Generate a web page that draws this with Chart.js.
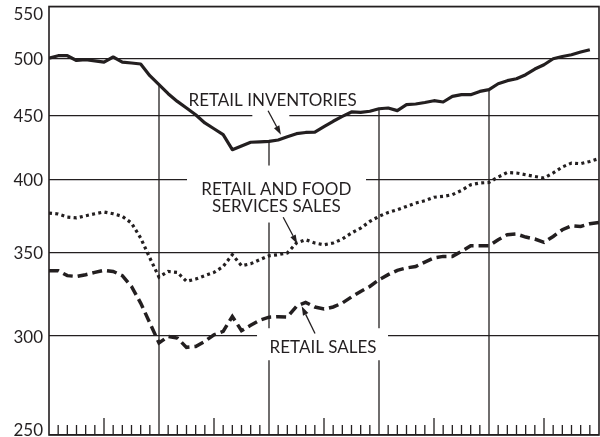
<!DOCTYPE html>
<html>
<head>
<meta charset="utf-8">
<script src="https://cdn.jsdelivr.net/npm/chart.js@4.4.0/dist/chart.umd.min.js"></script>
<style>
  html, body { margin: 0; padding: 0; background: #fff; }
  canvas { display: block; }
</style>
</head>
<body>
<canvas id="chart" width="600" height="437"></canvas>
<script>
// Monthly values, billions of dollars (log scale)
const inventories = [
    500.6, 502.8, 502.8, 498.4, 499.1, 498.1, 496.9, 501.6, 496.9, 496.1,
    495.2, 484.6, 476.7, 468.8, 462.2, 456.6, 451.0, 444.2, 439.5, 434.7,
    422.9, 425.8, 428.7, 429.0, 429.4, 430.5, 433.1, 435.5, 436.5, 436.8,
    441.2, 445.6, 449.6, 453.3, 452.9, 453.9, 456.0, 456.6, 454.4, 459.4,
    460.0, 461.3, 462.8, 461.7, 466.5, 468.0, 468.0, 470.8, 472.3, 477.5,
    480.2, 481.9, 485.5, 490.6, 494.5, 500.0, 502.1, 503.7, 506.2, 508.3
];
const foodServicesSales = [
    376.3, 375.6, 373.5, 372.9, 374.4, 375.8, 377.0, 375.8, 374.0, 369.4,
    359.4, 346.4, 334.4, 337.9, 337.3, 331.8, 333.2, 335.3, 337.3, 341.0,
    348.5, 341.5, 342.7, 345.3, 347.8, 348.5, 349.6, 356.1, 358.2, 356.1,
    354.9, 356.1, 358.7, 362.7, 366.0, 370.5, 374.0, 376.7, 378.6, 380.9,
    383.3, 384.9, 387.4, 388.0, 389.2, 392.3, 396.4, 397.7, 398.1, 402.1,
    405.5, 405.1, 403.8, 402.5, 401.4, 405.1, 409.6, 412.6, 412.1, 413.8,
    416.0
];
const retailSales = [
    338.4, 338.4, 335.3, 334.8, 335.9, 337.3, 338.6, 337.9, 335.3, 328.7,
    318.8, 307.3, 296.2, 299.8, 298.9, 293.8, 294.3, 297.1, 300.7, 302.6,
    311.0, 303.0, 306.0, 308.9, 310.6, 310.9, 310.7, 316.9, 319.2, 316.5,
    315.3, 316.5, 318.8, 322.4, 325.7, 328.7, 332.8, 335.9, 338.6, 340.1,
    341.0, 343.8, 346.4, 347.4, 347.4, 350.6, 354.3, 354.3, 354.3, 358.2,
    361.6, 362.0, 360.0, 358.7, 356.5, 360.4, 364.9, 367.6, 367.1, 368.9,
    369.8
];
const yTicks = [250, 300, 350, 400, 450, 500, 550];
const yearStarts = [12, 24, 36, 48];
const totalMonths = 60;

const ink = '#231f20';
const font = '17px Lato';

// callouts, anchored in data units (month, value)
const notes = [
    { lines: ['RETAIL INVENTORIES'], x: 24.4, y: 464.5 },
    { lines: ['RETAIL AND FOOD', 'SERVICES SALES'], x: 24.8, y: 388.3 },
    { lines: ['RETAIL SALES'], x: 29.9, y: 295 }
];
// white knock-outs behind the callouts (centre in data units, size in px)
const masks = [
    { x: 24.2, y: 450, w: 37, h: 8 },
    { x: 24.82, y: 389.7, w: 179, h: 57 },
    { x: 29.84, y: 295.5, w: 131, h: 32 }
];
const arrows = [
    { from: [23.9, 454.3], to: [25.3, 434.7] },
    { from: [25.55, 373.4], to: [27.08, 355.6] },
    { from: [29.02, 301.4], to: [27.57, 316.9] }
];

function seg(ctx, x1, y1, x2, y2) {
    ctx.beginPath();
    ctx.moveTo(x1, y1);
    ctx.lineTo(x2, y2);
    ctx.stroke();
}

const overlay = {
    id: 'overlay',
    beforeDatasetsDraw(chart) {
        const { ctx, chartArea: a, scales: { x, y } } = chart;
        ctx.save();
        ctx.strokeStyle = ink;
        ctx.lineWidth = 1.3;

        // year lines only run below the inventories line
        yearStarts.forEach(m => {
            const px = x.getPixelForValue(m);
            seg(ctx, px, y.getPixelForValue(inventories[m]), px, a.bottom);
        });

        // monthly ticks up from the bottom axis, longer at mid-year
        for (let m = 1; m < totalMonths; m++) {
            if (m % 12 === 0) continue;
            const px = x.getPixelForValue(m);
            const len = m % 6 === 0 ? 17 : 10;
            seg(ctx, px, a.bottom, px, a.bottom - len);
        }

        ctx.fillStyle = '#fff';
        masks.forEach(k => {
            const cx = x.getPixelForValue(k.x);
            const cy = y.getPixelForValue(k.y);
            ctx.fillRect(cx - k.w / 2, cy - k.h / 2, k.w, k.h);
        });

        ctx.fillStyle = ink;
        ctx.font = font;
        ctx.textAlign = 'center';
        ctx.textBaseline = 'middle';
        notes.forEach(n => {
            const cx = x.getPixelForValue(n.x);
            const cy = y.getPixelForValue(n.y) + 2;
            const top = cy - (n.lines.length - 1) * 17 / 2;
            n.lines.forEach((t, i) => ctx.fillText(t, cx, top + i * 17));
        });
        ctx.restore();
    },
    afterDatasetsDraw(chart) {
        const { ctx, chartArea: a, scales: { x, y } } = chart;
        ctx.save();
        ctx.strokeStyle = ink;
        ctx.fillStyle = ink;

        // arrows
        ctx.lineWidth = 1.3;
        arrows.forEach(r => {
            const x1 = x.getPixelForValue(r.from[0]), y1 = y.getPixelForValue(r.from[1]);
            const x2 = x.getPixelForValue(r.to[0]), y2 = y.getPixelForValue(r.to[1]);
            const ang = Math.atan2(y2 - y1, x2 - x1);
            const hl = 9, hw = 3;
            const bx = x2 - hl * Math.cos(ang), by = y2 - hl * Math.sin(ang);
            seg(ctx, x1, y1, bx, by);
            ctx.beginPath();
            ctx.moveTo(x2, y2);
            ctx.lineTo(bx + hw * Math.sin(ang), by - hw * Math.cos(ang));
            ctx.lineTo(bx - hw * Math.sin(ang), by + hw * Math.cos(ang));
            ctx.closePath();
            ctx.fill();
        });

        // frame
        ctx.lineWidth = 1.6;
        ctx.strokeRect(a.left, a.top - 0.5, a.right - a.left, a.bottom - a.top + 0.5);

        // value labels, kept inside the canvas at the ends
        ctx.font = font;
        ctx.textAlign = 'right';
        ctx.textBaseline = 'middle';
        yTicks.forEach(v => {
            const py = Math.min(Math.max(y.getPixelForValue(v) + 1, 15), 431);
            ctx.fillText(String(v), 43, py);
        });
        ctx.restore();
    }
};

const toPoints = (arr) => arr.map((v, i) => ({ x: i, y: v }));

new Chart(document.getElementById('chart'), {
    type: 'line',
    data: {
        datasets: [
            {
                label: 'Retail inventories',
                data: toPoints(inventories),
                borderColor: ink,
                borderWidth: 3.2,
                borderJoinStyle: 'round',
                pointRadius: 0
            },
            {
                label: 'Retail and food services sales',
                data: toPoints(foodServicesSales),
                borderColor: ink,
                borderWidth: 3.2,
                borderDash: [3, 3.3],
                pointRadius: 0
            },
            {
                label: 'Retail sales',
                data: toPoints(retailSales),
                borderColor: ink,
                borderWidth: 3.5,
                borderDash: [10, 5],
                pointRadius: 0
            }
        ]
    },
    options: {
        responsive: false,
        animation: false,
        devicePixelRatio: 1,
        layout: { padding: { top: 7, right: 1, bottom: 2, left: 0 } },
        plugins: {
            legend: { display: false },
            tooltip: { enabled: false }
        },
        scales: {
            x: {
                type: 'linear',
                min: 0,
                max: totalMonths,
                display: false
            },
            y: {
                type: 'logarithmic',
                min: 250,
                max: 550,
                afterBuildTicks: (scale) => {
                    scale.ticks = yTicks.map(v => ({ value: v }));
                },
                afterFit: (scale) => { scale.width = 49; },
                ticks: { display: false },
                border: { display: false },
                grid: { color: ink, lineWidth: 1.3, drawTicks: false }
            }
        }
    },
    plugins: [overlay]
});
</script>
</body>
</html>
